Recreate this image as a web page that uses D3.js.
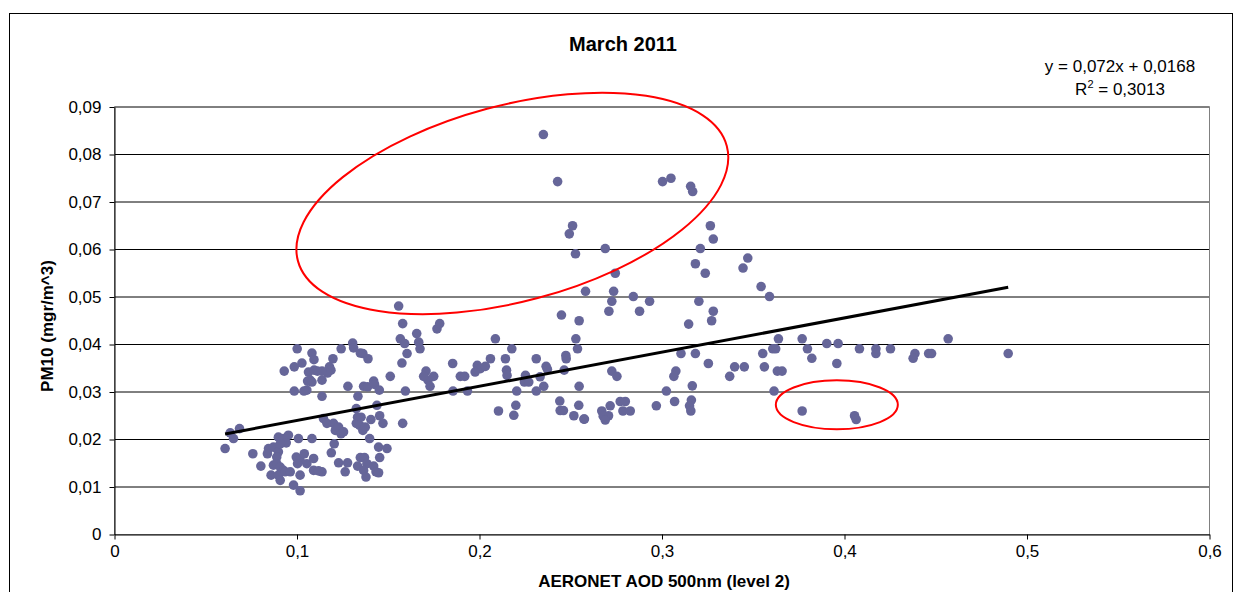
<!DOCTYPE html>
<html>
<head>
<meta charset="utf-8">
<script src="https://cdn.jsdelivr.net/npm/d3@7"></script>
<style>
  html, body { margin: 0; padding: 0; background: #fff; }
  svg text { font-family: "Liberation Sans", Arial, sans-serif; fill: #000; }
</style>
</head>
<body>
<svg id="chart" width="1238" height="592"></svg>
<script>
// ---- Data ----
const chartTitle = "March 2011";
const xAxisTitle = "AERONET AOD 500nm (level 2)";
const yAxisTitle = "PM10 (mgr/m^3)";
const xTickValues = [0, 0.1, 0.2, 0.3, 0.4, 0.5, 0.6];
const xTickLabels = ["0", "0,1", "0,2", "0,3", "0,4", "0,5", "0,6"];
const yTickValues = [0, 0.01, 0.02, 0.03, 0.04, 0.05, 0.06, 0.07, 0.08, 0.09];
const yTickLabels = ["0", "0,01", "0,02", "0,03", "0,04", "0,05", "0,06", "0,07", "0,08", "0,09"];
const trendSlope = 0.072;
const trendIntercept = 0.0168;
const trendLabel = "y = 0,072x + 0,0168";
const r2Label = "0,3013";

// AOD (x) values
const aod = [
  0.235,0.2428,0.3003,0.3049,0.3157,0.3168,0.251,0.2492,0.2526,0.2689,
  0.2744,0.2581,0.2735,0.2725,0.2843,0.2932,0.2877,0.2709,0.2449,0.3265,
  0.3281,0.321,0.3183,0.3237,0.3202,0.3281,0.347,0.3444,0.1557,0.3272,
  0.3146,0.3543,0.3589,
  0.3638,0.3607,0.3623,0.3552,0.3104,0.3183,0.3254,0.3632,0.3658,0.3561,
  0.3398,0.3451,0.3371,0.2725,0.2753,0.3076,0.3065,0.3024,0.3166,0.3614,
  0.3069,0.3161,0.3151,0.3158,0.2969,0.2575,0.2716,0.267,0.2678,0.2707,
  0.2689,0.2771,0.2799,0.2786,0.2826,0.3768,0.3797,0.3821,0.3903,0.3965,
  0.3958,0.4082,0.4172,0.4172,0.4252,0.4386,0.4376,0.4461,0.4477,0.4568,
  0.4897,0.3768,0.4055,0.4064,
  0.2546,0.2528,0.2537,0.2087,0.2177,0.2142,0.2475,0.2311,0.206,0.2365,
  0.2372,0.2148,0.2151,0.2464,0.1853,0.1988,0.2005,0.1976,0.2032,0.1895,
  0.1919,0.1707,0.1749,0.1718,0.1729,0.1694,0.1855,0.1934,0.2204,0.2252,
  0.2246,0.227,0.2311,0.2332,0.2352,0.2473,0.2546,0.2104,0.2199,0.2188,
  0.244,0.2442,0.246,0.2517,0.2544,0.2572,0.1594,0.1579,0.1579,0.1566,
  0.159,0.1603,0.1575,0.1656,0.1667,0.1674,0.1767,0.1782,
  0.1511,0.1305,0.131,0.1347,0.1361,0.1389,0.1242,0.1197,0.1178,0.1186,
  0.1167,0.1137,0.1137,0.1137,0.1279,0.1334,0.1365,0.1387,0.142,0.1425,
  0.1451,0.1438,0.1453,0.1471,0.1405,0.1325,0.1332,0.1325,0.1351,0.1343,
  0.1361,0.1374,0.1398,0.1145,0.1164,0.12,0.121,0.1228,0.1241,0.1204,
  0.1255,0.1188,0.1228,0.1277,0.1264,0.1332,0.1347,0.137,0.1383,0.1365,
  0.1378,0.142,0.1433,0.1447,0.1453,0.1493,0.1447,0.1137,
  0.1001,0.1082,0.1093,0.1027,0.0985,0.093,0.1063,0.1094,0.1112,0.1072,
  0.1058,0.1082,0.1054,0.1038,0.0985,0.0634,0.0685,0.0652,0.0606,0.0758,
  0.0802,0.0844,0.0871,0.0898,0.0838,0.0889,0.0898,0.0926,0.0953,0.0941,
  0.0908,0.1008,0.0871,0.0889,0.0908,0.0926,0.0858,0.0898,0.0908,0.0935,
  0.0963,0.0996,0.1017,0.104,0.1003,0.1054,0.1017,0.1091,0.0981,0.1017,
  0.1091,0.1118,0.1082
];
// PM10 (y) values
const pm10 = [
  0.0842,0.0743,0.0743,0.075,0.0733,0.0722,0.065,0.0633,0.0591,0.0602,
  0.055,0.0512,0.0512,0.0491,0.0501,0.0491,0.047,0.047,0.0462,0.065,
  0.0622,0.0602,0.057,0.055,0.0491,0.047,0.0582,0.0561,0.0481,0.045,
  0.0443,0.0522,0.0501,
  0.0412,0.0391,0.0391,0.0381,0.0381,0.0381,0.036,0.0344,0.0344,0.0353,
  0.0353,0.0353,0.0333,0.0344,0.0333,0.0344,0.0333,0.0302,0.0313,0.0302,
  0.028,0.0283,0.0271,0.026,0.0271,0.0243,0.0271,0.026,0.0249,0.025,
  0.0241,0.028,0.028,0.026,0.026,0.0412,0.0391,0.0371,0.0402,0.0402,
  0.036,0.0391,0.0391,0.0381,0.0391,0.0381,0.0371,0.0381,0.0381,0.0412,
  0.0381,0.026,0.025,0.0242,
  0.045,0.0412,0.0391,0.0412,0.0391,0.037,0.037,0.037,0.037,0.0354,
  0.0348,0.0346,0.0335,0.0346,0.036,0.0356,0.0349,0.0342,0.0354,0.0333,
  0.0333,0.0344,0.0333,0.0325,0.0312,0.0333,0.0302,0.0302,0.0302,0.0335,
  0.0321,0.0321,0.0302,0.0332,0.0312,0.0377,0.0312,0.026,0.0272,0.0251,
  0.0281,0.0261,0.0261,0.025,0.0272,0.0243,0.0302,0.0234,0.0444,0.0412,
  0.0402,0.0381,0.0361,0.0423,0.0405,0.0391,0.0433,0.0444,
  0.0333,0.0403,0.0393,0.0382,0.0381,0.037,0.0391,0.037,0.0353,0.0346,
  0.034,0.0344,0.0325,0.0291,0.0312,0.0291,0.0312,0.0311,0.0323,0.0316,
  0.0304,0.0272,0.025,0.0234,0.0242,0.0265,0.0247,0.0234,0.0247,0.023,
  0.0219,0.0226,0.0202,0.0244,0.0234,0.0234,0.0219,0.0226,0.0212,0.0191,
  0.0216,0.0172,0.0151,0.0151,0.0132,0.0144,0.0162,0.0162,0.0149,0.0135,
  0.0121,0.0144,0.0132,0.013,0.0162,0.0181,0.0184,0.0132,
  0.0391,0.0382,0.0368,0.0361,0.0353,0.0344,0.0342,0.0346,0.0344,0.0325,
  0.0323,0.0321,0.0304,0.0302,0.0302,0.0214,0.0223,0.0202,0.0181,0.017,
  0.0144,0.0181,0.0184,0.0174,0.017,0.0163,0.0205,0.0202,0.0209,0.0193,
  0.0191,0.0202,0.0146,0.0149,0.0142,0.0135,0.0125,0.0125,0.0114,0.0132,
  0.0132,0.0163,0.0156,0.017,0.0149,0.0149,0.0125,0.016,0.0104,0.0092,
  0.0135,0.0134,0.0202
];
// Highlight ellipses (centres in data units)
const ellipseCx = [0.218, 0.3958];
const ellipseCy = [0.0697, 0.0273];

// ---- Drawing ----
const svg = d3.select("#chart");
const W = 1238, H = 592;
svg.append("rect").attr("width", W).attr("height", H).attr("fill", "#fff");
// outer chart border
svg.append("rect").attr("x", 9.5).attr("y", 13.5).attr("width", 1223).attr("height", 620)
  .attr("fill", "none").attr("stroke", "#000").attr("stroke-width", 1);

const x = d3.scaleLinear().domain([0, 0.6]).range([114.5, 1209.5]);
const y = d3.scaleLinear().domain([0, 0.09]).range([534.5, 107]);

// gridlines
svg.append("g").selectAll("line").data(yTickValues.slice(1)).join("line")
  .attr("x1", x(0)).attr("x2", x(0.6))
  .attr("y1", d => y(d)).attr("y2", d => y(d))
  .attr("stroke", "#000").attr("stroke-width", 1);

// plot area border (grey)
svg.append("rect").attr("x", x(0)).attr("y", y(0.09))
  .attr("width", x(0.6) - x(0)).attr("height", y(0) - y(0.09))
  .attr("fill", "none").attr("stroke", "#808080").attr("stroke-width", 1);

// axes
const yAxis = d3.axisLeft(y).tickValues(yTickValues)
  .tickFormat((d, i) => yTickLabels[i]).tickSizeInner(5).tickSizeOuter(0).tickPadding(8);
const gy = svg.append("g").attr("transform", `translate(${x(0)},0)`).call(yAxis);
const xAxis = d3.axisBottom(x).tickValues(xTickValues)
  .tickFormat((d, i) => xTickLabels[i]).tickSizeInner(5).tickSizeOuter(0).tickPadding(5);
const gx = svg.append("g").attr("transform", `translate(0,${y(0)})`).call(xAxis);
[gx, gy].forEach(g => {
  g.select(".domain").attr("stroke", "#000").attr("stroke-width", 1);
  g.selectAll(".tick line").attr("stroke", "#000");
  g.selectAll(".tick text").attr("font-size", 17).attr("font-family", "'Liberation Sans', Arial, sans-serif").attr("fill", "#000");
});
gx.selectAll(".tick text").attr("dy", "0.71em");

// points
const pts = aod.map((v, i) => ({ x: v, y: pm10[i] }));
svg.append("g").selectAll("circle").data(pts).join("circle")
  .attr("cx", d => x(d.x)).attr("cy", d => y(d.y)).attr("r", 4.8)
  .attr("fill", "#666699");

// trendline
const xmin = d3.min(aod), xmax = d3.max(aod);
svg.append("line")
  .attr("x1", x(xmin)).attr("y1", y(trendSlope * xmin + trendIntercept))
  .attr("x2", x(xmax)).attr("y2", y(trendSlope * xmax + trendIntercept))
  .attr("stroke", "#000").attr("stroke-width", 3);

// ellipses
svg.append("ellipse")
  .attr("transform", `translate(${x(ellipseCx[0])},${y(ellipseCy[0])}) rotate(-15)`)
  .attr("rx", 222).attr("ry", 98)
  .attr("fill", "none").attr("stroke", "#ff0000").attr("stroke-width", 2);
svg.append("ellipse")
  .attr("cx", x(ellipseCx[1])).attr("cy", y(ellipseCy[1]))
  .attr("rx", 61).attr("ry", 24.5)
  .attr("fill", "none").attr("stroke", "#ff0000").attr("stroke-width", 2);

// titles
svg.append("text").attr("x", 623).attr("y", 50.5).attr("text-anchor", "middle")
  .attr("font-size", 20).attr("font-weight", "bold").text(chartTitle);
svg.append("text").attr("x", 664).attr("y", 587).attr("text-anchor", "middle")
  .attr("font-size", 17).attr("font-weight", "bold").text(xAxisTitle);
svg.append("text").attr("transform", "translate(53,326) rotate(-90)").attr("text-anchor", "middle")
  .attr("font-size", 17).attr("font-weight", "bold").text(yAxisTitle);

// trendline equation
svg.append("text").attr("x", 1120).attr("y", 71.5).attr("text-anchor", "middle")
  .attr("font-size", 17).text(trendLabel);
const r2 = svg.append("text").attr("x", 1120).attr("y", 95).attr("text-anchor", "middle")
  .attr("font-size", 17);
r2.append("tspan").text("R");
r2.append("tspan").attr("font-size", 11).attr("dy", -7).text("2");
r2.append("tspan").attr("dy", 7).text(" = " + r2Label);
</script>
</body>
</html>
